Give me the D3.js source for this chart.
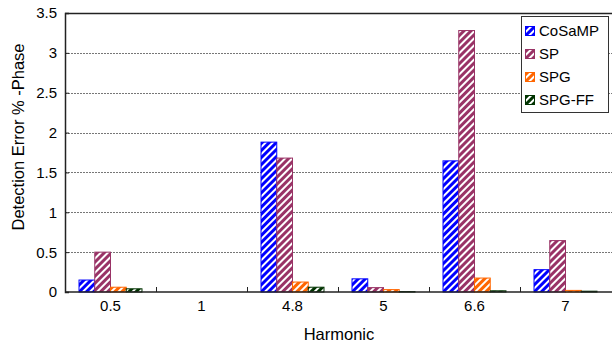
<!DOCTYPE html>
<html>
<head>
<meta charset="utf-8">
<script src="https://cdn.jsdelivr.net/npm/d3@7"></script>
<style>
  body { margin: 0; background: #fff; }
  text { font-family: "Liberation Sans", Arial, sans-serif; fill: #000; }
</style>
</head>
<body>
<svg id="chart" width="612" height="346"></svg>
<script>
const harmonics = ["0.5", "1", "4.8", "5", "6.6", "7"];
const seriesNames = ["CoSaMP", "SP", "SPG", "SPG-FF"];
const cosamp = [0.15, 0, 1.88, 0.165, 1.645, 0.28];
const sp = [0.5, 0, 1.68, 0.055, 3.28, 0.645];
const spg = [0.06, 0, 0.125, 0.03, 0.175, 0.02];
const spgff = [0.04, 0, 0.06, 0.005, 0.015, 0.01];
const yTicks = [0, 0.5, 1, 1.5, 2, 2.5, 3, 3.5];

const colors = {
  CoSaMP: "#0000ff",
  SP: "#993366",
  SPG: "#ff6600",
  "SPG-FF": "#003300",
};

const seriesValues = [cosamp, sp, spg, spgff];
const table = harmonics.map((h, i) => ({
  harmonic: h,
  values: seriesNames.map((s, j) => ({ series: s, value: seriesValues[j][i] })),
}));

const svg = d3.select("#chart");
const margin = { left: 65, top: 13, right: 612, bottom: 292 };

// striped fills, one per series
const defs = svg.append("defs");
seriesNames.forEach((s, i) => {
  const p = defs
    .append("pattern")
    .attr("id", "hatch" + i)
    .attr("patternUnits", "userSpaceOnUse")
    .attr("width", 5)
    .attr("height", 5)
    .attr("patternTransform", "rotate(45)");
  p.append("rect").attr("width", 5).attr("height", 5).attr("fill", "#fff");
  p.append("rect").attr("width", 3).attr("height", 5).attr("fill", colors[s]);
});

const x = d3
  .scaleBand()
  .domain(harmonics)
  .range([margin.left, margin.right - 1])
  .paddingInner(0)
  .paddingOuter(0);

const x1 = d3
  .scaleBand()
  .domain(seriesNames)
  .range([0, x.bandwidth()])
  .paddingInner(0)
  .paddingOuter(0.89);

const y = d3.scaleLinear().domain([0, 3.5]).range([margin.bottom, margin.top]);

// gridlines
svg
  .append("g")
  .selectAll("line")
  .data(yTicks.filter((t) => t > 0 && t < 3.5))
  .enter()
  .append("line")
  .attr("x1", margin.left)
  .attr("x2", margin.right)
  .attr("y1", (d) => Math.round(y(d)) + 0.5)
  .attr("y2", (d) => Math.round(y(d)) + 0.5)
  .attr("stroke", "#777")
  .attr("stroke-width", 1)
  .attr("stroke-dasharray", "2,1");

// bars
const groups = svg
  .append("g")
  .selectAll("g")
  .data(table)
  .enter()
  .append("g")
  .attr("transform", (d) => `translate(${x(d.harmonic)},0)`);

groups
  .selectAll("rect")
  .data((d) => d.values.filter((v) => v.value > 0))
  .enter()
  .append("rect")
  .attr("x", (d) => x1(d.series))
  .attr("y", (d) => y(d.value))
  .attr("width", x1.bandwidth())
  .attr("height", (d) => y(0) - y(d.value))
  .attr("fill", (d) => `url(#hatch${seriesNames.indexOf(d.series)})`)
  .attr("stroke", (d) => colors[d.series])
  .attr("stroke-width", 1);

// frame: top and left borders
svg
  .append("line")
  .attr("x1", margin.left)
  .attr("x2", margin.right)
  .attr("y1", margin.top + 0.5)
  .attr("y2", margin.top + 0.5)
  .attr("stroke", "#222")
  .attr("stroke-width", 1.5);

// y axis, ticks inside
const yAxis = svg
  .append("g")
  .attr("transform", `translate(${margin.left},0)`)
  .call(d3.axisRight(y).tickValues(yTicks).tickSize(4).tickFormat(""));
yAxis.select(".domain").attr("stroke", "#222").attr("stroke-width", 1.5);
yAxis.selectAll(".tick line").attr("stroke", "#222");

svg
  .append("g")
  .selectAll("text")
  .data(yTicks)
  .enter()
  .append("text")
  .attr("x", 57)
  .attr("y", (d) => y(d))
  .attr("dy", "0.36em")
  .attr("text-anchor", "end")
  .attr("font-size", 15)
  .text((d) => d);

// x axis, ticks between categories pointing up
const xAxis = svg
  .append("g")
  .attr("transform", `translate(0,${margin.bottom})`);
xAxis
  .append("line")
  .attr("x1", margin.left)
  .attr("x2", margin.right)
  .attr("stroke", "#222")
  .attr("stroke-width", 1.5);
xAxis
  .selectAll("line.tick")
  .data(harmonics.slice(1))
  .enter()
  .append("line")
  .attr("class", "tick")
  .attr("x1", (d) => Math.round(x(d)) + 0.5)
  .attr("x2", (d) => Math.round(x(d)) + 0.5)
  .attr("y1", 0)
  .attr("y2", -5)
  .attr("stroke", "#222");
xAxis
  .selectAll("text")
  .data(harmonics)
  .enter()
  .append("text")
  .attr("x", (d) => x(d) + x.bandwidth() / 2)
  .attr("y", 19)
  .attr("text-anchor", "middle")
  .attr("font-size", 15)
  .text((d) => d);

// axis titles
svg
  .append("text")
  .attr("x", 339)
  .attr("y", 340)
  .attr("text-anchor", "middle")
  .attr("font-size", 16.5)
  .text("Harmonic");

svg
  .append("text")
  .attr("transform", "translate(24,137) rotate(-90)")
  .attr("text-anchor", "middle")
  .attr("font-size", 16.5)
  .text("Detection Error % -Phase");

// legend
const legend = svg.append("g").attr("transform", "translate(521,16)");
legend
  .append("rect")
  .attr("x", 0.5)
  .attr("y", 0.5)
  .attr("width", 87)
  .attr("height", 96)
  .attr("fill", "#fff")
  .attr("stroke", "#333");

const items = legend
  .selectAll("g")
  .data(seriesNames)
  .enter()
  .append("g")
  .attr("transform", (d, i) => `translate(0,${15 + i * 23})`);
items
  .append("rect")
  .attr("x", 4.5)
  .attr("y", -4.5)
  .attr("width", 9)
  .attr("height", 9)
  .attr("fill", (d, i) => `url(#hatch${i})`)
  .attr("stroke", (d) => colors[d]);
items
  .append("text")
  .attr("x", 18)
  .attr("y", 0)
  .attr("dy", "0.36em")
  .attr("font-size", 15)
  .text((d) => d);
</script>
</body>
</html>
